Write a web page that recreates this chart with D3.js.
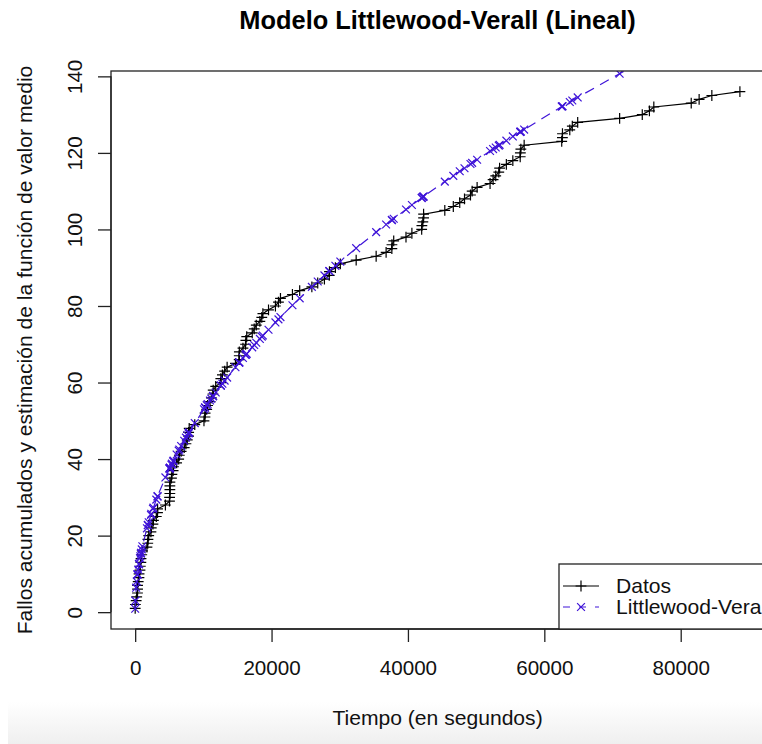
<!DOCTYPE html>
<html>
<head>
<meta charset="utf-8">
<script src="https://cdn.jsdelivr.net/npm/d3@7"></script>
<style>
  html, body { margin: 0; padding: 0; background: #fff; overflow: hidden; }
  svg { display: block; font-family: "Liberation Sans", Arial, Helvetica, sans-serif; }
</style>
</head>
<body>
<svg id="chart" width="762" height="744"></svg>
<script>
// Cumulative failure times (seconds)
const failureTimes = [3,33,146,227,342,351,353,444,556,571,709,759,836,860,968,1056,1726,1846,1872,1986,
  2311,2366,2608,2676,3098,3278,3288,4434,5034,5049,5085,5089,5089,5097,5324,5389,5565,5623,6080,6380,
  6477,6740,7192,7447,7644,7837,7843,7922,8738,10089,10237,10258,10491,10625,10982,11175,11411,11442,11811,12559,
  12559,12791,13121,13486,14708,15251,15261,15277,15806,16185,16229,16358,17168,17458,17758,18287,18568,18728,19556,20567,
  21012,21308,23063,24127,25910,26770,27753,28460,28493,29361,30085,32408,35338,36799,37642,37654,37915,39715,40580,42015,
  42045,42188,42296,42296,45406,46653,47596,48296,49171,49416,50145,52042,52489,52875,53321,53443,54433,55381,56463,56485,
  56560,57042,62551,62651,62661,63732,64103,64893,71043,74364,75409,76057,81542,82702,84566,88682];
// Cumulative number of failures
const cumulativeFailures = [1,2,3,4,5,6,7,8,9,10,11,12,13,14,15,16,17,18,19,20,
  21,22,23,24,25,26,27,28,29,30,31,32,33,34,35,36,37,38,39,40,
  41,42,43,44,45,46,47,48,49,50,51,52,53,54,55,56,57,58,59,60,
  61,62,63,64,65,66,67,68,69,70,71,72,73,74,75,76,77,78,79,80,
  81,82,83,84,85,86,87,88,89,90,91,92,93,94,95,96,97,98,99,100,
  101,102,103,104,105,106,107,108,109,110,111,112,113,114,115,116,117,118,119,120,
  121,122,123,124,125,126,127,128,129,130,131,132,133,134,135,136];
// Littlewood-Verall (linear) estimated mean value function at each failure time
const lvMean = [0.9,3.0,6.4,8.0,9.8,9.9,9.9,11.1,12.5,12.6,14.1,14.6,15.3,15.5,16.4,17.2,21.9,22.7,22.8,23.5,
  25.4,25.7,27.0,27.3,29.4,30.2,30.3,35.2,37.5,37.5,37.7,37.7,37.7,37.7,38.5,38.8,39.4,39.6,41.2,42.2,
  42.5,43.4,44.8,45.6,46.2,46.7,46.8,47.0,49.4,53.0,53.4,53.5,54.1,54.4,55.3,55.8,56.4,56.5,57.4,59.2,
  59.2,59.7,60.5,61.3,64.0,65.2,65.2,65.3,66.4,67.2,67.3,67.5,69.2,69.8,70.4,71.4,72.0,72.3,73.8,75.7,
  76.5,77.1,80.2,82.0,85.0,86.4,88.0,89.1,89.1,90.5,91.6,95.1,99.3,101.3,102.4,102.5,102.8,105.2,106.4,108.2,
  108.3,108.5,108.6,108.6,112.5,114.0,115.2,116.0,117.1,117.4,118.2,120.5,121.0,121.4,121.9,122.1,123.2,124.3,125.5,125.5,
  125.6,126.1,132.1,132.2,132.2,133.3,133.7,134.5,140.7,144.0,145.0,145.6,150.8,151.8,153.5,157.2];

const xTicks = [0, 20000, 40000, 60000, 80000];
const yTicks = [0, 20, 40, 60, 80, 100, 120, 140];
const titleText = "Modelo Littlewood-Verall (Lineal)";
const xLabel = "Tiempo (en segundos)";
const yLabel = "Fallos acumulados y estimación de la función de valor medio";
const legendLabels = ["Datos", "Littlewood-Verall"];

const dataColor = "#000000";
const lvColor = "#3f14d8";

const svg = d3.select("#chart");

// faint grey band at the bottom of the picture
const defs = svg.append("defs");
const grad = defs.append("linearGradient").attr("id", "bottomFade").attr("x1", 0).attr("y1", 0).attr("x2", 0).attr("y2", 1);
grad.append("stop").attr("offset", "0%").attr("stop-color", "#ffffff");
grad.append("stop").attr("offset", "100%").attr("stop-color", "#efefef");
svg.append("rect").attr("x", 8).attr("y", 702).attr("width", 754).attr("height", 42).attr("fill", "url(#bottomFade)");

const plot = { left: 111, top: 71, right: 764.1, bottom: 629 };

// R-style 4% extended ranges
const xExt = d3.extent(failureTimes);
const xPad = (xExt[1] - xExt[0]) * 0.04;
const yExt = d3.extent(cumulativeFailures);
const yPad = (yExt[1] - yExt[0]) * 0.04;

const x = d3.scaleLinear().domain([xExt[0] - xPad, xExt[1] + xPad]).range([plot.left, plot.right]);
const y = d3.scaleLinear().domain([yExt[0] - yPad, yExt[1] + yPad]).range([plot.bottom, plot.top]);

defs.append("clipPath").attr("id", "plotClip")
  .append("rect").attr("x", plot.left).attr("y", plot.top)
  .attr("width", plot.right - plot.left).attr("height", plot.bottom - plot.top);

const g = svg.append("g").attr("clip-path", "url(#plotClip)");

const dataPts = failureTimes.map((t, i) => ({ t, v: cumulativeFailures[i] }));
const lvPts = failureTimes.map((t, i) => ({ t, v: lvMean[i] }));

const line = d3.line().x(d => x(d.t)).y(d => y(d.v));

// Datos: solid line with "+"
g.append("path").datum(dataPts).attr("d", line)
  .attr("fill", "none").attr("stroke", dataColor).attr("stroke-width", 1.2);
const ph = 5.4;
g.append("g").selectAll("path").data(dataPts).join("path")
  .attr("d", d => `M${x(d.t) - ph},${y(d.v)}H${x(d.t) + ph}M${x(d.t)},${y(d.v) - ph}V${y(d.v) + ph}`)
  .attr("stroke", dataColor).attr("stroke-width", 1.2).attr("fill", "none");

// Littlewood-Verall: dashed line with "x"
g.append("path").datum(lvPts).attr("d", line)
  .attr("fill", "none").attr("stroke", lvColor).attr("stroke-width", 1.2).attr("stroke-dasharray", "10,7");
const xh = 3.9;
g.append("g").selectAll("path").data(lvPts).join("path")
  .attr("d", d => `M${x(d.t) - xh},${y(d.v) - xh}L${x(d.t) + xh},${y(d.v) + xh}M${x(d.t) - xh},${y(d.v) + xh}L${x(d.t) + xh},${y(d.v) - xh}`)
  .attr("stroke", lvColor).attr("stroke-width", 1.2).attr("fill", "none");

// Box
svg.append("rect").attr("x", plot.left).attr("y", plot.top)
  .attr("width", plot.right - plot.left).attr("height", plot.bottom - plot.top)
  .attr("fill", "none").attr("stroke", "#222").attr("stroke-width", 1.3);

// Axes
const fontSize = 20.6;
const labelSize = 21.1;
const xAxis = svg.append("g").attr("transform", `translate(0,${plot.bottom})`)
  .call(d3.axisBottom(x).tickValues(xTicks).tickSizeOuter(0).tickSize(13).tickFormat(d3.format("d")));
xAxis.select(".domain").attr("d", `M${x(xTicks[0])},0H${x(xTicks[xTicks.length - 1])}`).attr("stroke", "#222").attr("stroke-width", 1.3);
xAxis.selectAll(".tick line").attr("stroke", "#222").attr("stroke-width", 1.3);
xAxis.selectAll(".tick text").attr("y", 46).attr("dy", null)
  .attr("font-size", fontSize).attr("fill", "#111").attr("font-family", "Liberation Sans, Arial, sans-serif");

const yAxis = svg.append("g").attr("transform", `translate(${plot.left},0)`)
  .call(d3.axisLeft(y).tickValues(yTicks).tickSizeOuter(0).tickSize(13).tickFormat(d3.format("d")));
yAxis.select(".domain").attr("d", `M0,${y(yTicks[0])}V${y(yTicks[yTicks.length - 1])}`).attr("stroke", "#222").attr("stroke-width", 1.3);
yAxis.selectAll(".tick line").attr("stroke", "#222").attr("stroke-width", 1.3);
yAxis.selectAll(".tick text")
  .attr("x", null).attr("dy", null)
  .attr("transform", "translate(-29,0) rotate(-90)")
  .attr("text-anchor", "middle")
  .attr("font-size", fontSize).attr("fill", "#111").attr("font-family", "Liberation Sans, Arial, sans-serif");

// Title and axis labels
const cx = (plot.left + plot.right) / 2;
svg.append("text").attr("x", cx).attr("y", 28.5).attr("text-anchor", "middle")
  .attr("font-size", 25.4).attr("font-weight", "bold").attr("fill", "#000").text(titleText);
svg.append("text").attr("x", cx).attr("y", 724.5).attr("text-anchor", "middle")
  .attr("font-size", labelSize).attr("fill", "#111").text(xLabel);
svg.append("text").attr("transform", `translate(32,${(plot.top + plot.bottom) / 2}) rotate(-90)`)
  .attr("text-anchor", "middle").attr("font-size", labelSize).attr("fill", "#111").text(yLabel);

// Legend
const leg = svg.append("g");
leg.append("rect").attr("x", 559).attr("y", 564).attr("width", 260).attr("height", plot.bottom - 564)
  .attr("fill", "#fff").attr("stroke", "#222").attr("stroke-width", 1.3);
const rows = [
  { label: legendLabels[0], color: dataColor, dash: null, mark: "plus", yy: 586 },
  { label: legendLabels[1], color: lvColor, dash: "7,9", mark: "cross", yy: 607 }
];
rows.forEach(r => {
  leg.append("line").attr("x1", 563).attr("x2", 599).attr("y1", r.yy).attr("y2", r.yy)
    .attr("stroke", r.color).attr("stroke-width", 1.2).attr("stroke-dasharray", r.dash);
  const mx = 581, my = r.yy;
  if (r.mark === "plus") {
    leg.append("path").attr("d", `M${mx - ph},${my}H${mx + ph}M${mx},${my - ph}V${my + ph}`)
      .attr("stroke", r.color).attr("stroke-width", 1.2);
  } else {
    leg.append("path").attr("d", `M${mx - xh},${my - xh}L${mx + xh},${my + xh}M${mx - xh},${my + xh}L${mx + xh},${my - xh}`)
      .attr("stroke", r.color).attr("stroke-width", 1.2);
  }
  leg.append("text").attr("x", 616).attr("y", r.yy + 7.4).attr("font-size", labelSize).attr("fill", "#111").text(r.label);
});
</script>
</body>
</html>
